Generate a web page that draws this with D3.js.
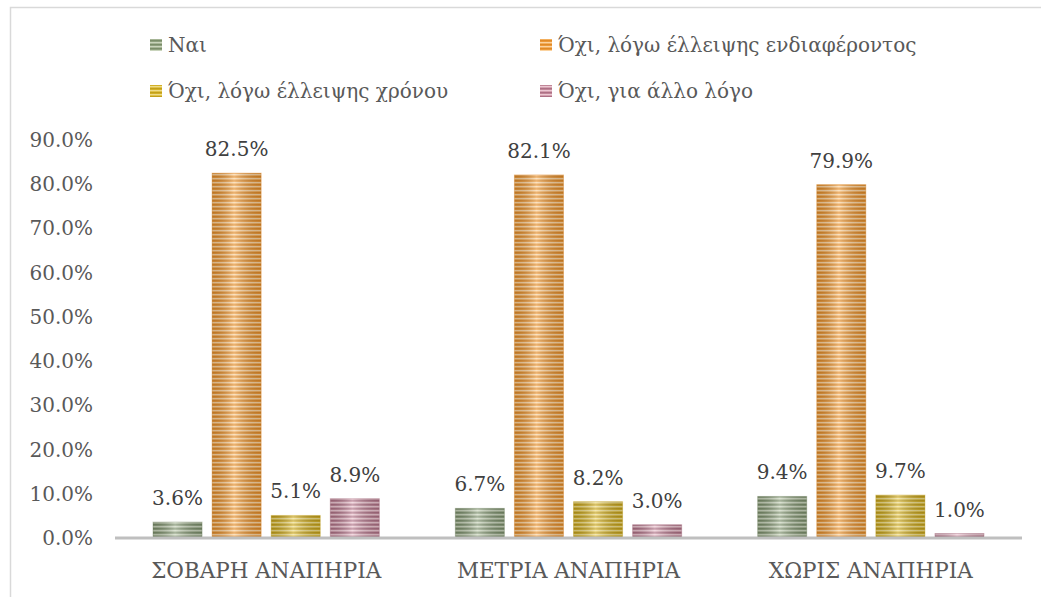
<!DOCTYPE html>
<html>
<head>
<meta charset="utf-8">
<script src="https://cdn.jsdelivr.net/npm/d3@7"></script>
<style>
  body { margin: 0; background: #fff; }
  text { font-family: "DejaVu Serif", "Liberation Serif", serif; }
</style>
</head>
<body>
<div id="chart"></div>
<script>
// data
const categories = ["ΣΟΒΑΡΗ ΑΝΑΠΗΡΙΑ", "ΜΕΤΡΙΑ ΑΝΑΠΗΡΙΑ", "ΧΩΡΙΣ ΑΝΑΠΗΡΙΑ"];
const seriesNames = ["Ναι", "Όχι, λόγω έλλειψης ενδιαφέροντος", "Όχι, λόγω έλλειψης χρόνου", "Όχι, για άλλο λόγο"];
const nai = [3.6, 6.7, 9.4];
const noInterest = [82.5, 82.1, 79.9];
const noTime = [5.1, 8.2, 9.7];
const otherReason = [8.9, 3.0, 1.0];
const yTicks = [0, 10, 20, 30, 40, 50, 60, 70, 80, 90];

const seriesValues = [nai, noInterest, noTime, otherReason];
const colors = [
  { base: "#97a886", dark: "#7a8d6a", light: "#c9d4bc" },
  { base: "#f0a040", dark: "#e08a28", light: "#fbd3a0" },
  { base: "#d9b72c", dark: "#c29f1a", light: "#eedc8a" },
  { base: "#c98fa0", dark: "#ad7085", light: "#ecc7d2" }
];

const W = 1041, H = 597;
const svg = d3.select("#chart").append("svg")
  .attr("width", W).attr("height", H);

// frame
svg.append("rect")
  .attr("x", 10.5).attr("y", 7.5)
  .attr("width", W + 20).attr("height", H + 20)
  .attr("fill", "none").attr("stroke", "#d9d9d9").attr("stroke-width", 1.5);

const defs = svg.append("defs");
colors.forEach((c, i) => {
  const p = defs.append("pattern")
    .attr("id", "stripe" + i)
    .attr("patternUnits", "userSpaceOnUse")
    .attr("width", 8).attr("height", 4);
  p.append("rect").attr("width", 8).attr("height", 4).attr("fill", c.base);
  p.append("rect").attr("y", 0).attr("width", 8).attr("height", 1.3).attr("fill", c.dark);
  p.append("rect").attr("y", 2).attr("width", 8).attr("height", 1.3).attr("fill", c.light);
});
const shade = defs.append("linearGradient").attr("id", "shade")
  .attr("x1", "0%").attr("x2", "100%").attr("y1", "0%").attr("y2", "0%");
shade.append("stop").attr("offset", "0%").attr("stop-color", "#000").attr("stop-opacity", 0.15);
shade.append("stop").attr("offset", "45%").attr("stop-color", "#fff").attr("stop-opacity", 0.35);
shade.append("stop").attr("offset", "100%").attr("stop-color", "#000").attr("stop-opacity", 0.15);

// scales
const x0 = d3.scaleBand().domain(categories).range([115, 1022]).paddingInner(0).paddingOuter(0);
const x1 = d3.scaleBand().domain(d3.range(4)).range([38, x0.bandwidth() - 38]).paddingInner(0.17);
const y = d3.scaleLinear().domain([0, 90]).range([538, 140]);

// y tick labels
svg.append("g").selectAll("text")
  .data(yTicks).enter().append("text")
  .attr("x", 93).attr("y", d => y(d) + 7)
  .attr("text-anchor", "end")
  .attr("font-size", 20).attr("fill", "#595959")
  .text(d => d.toFixed(1) + "%");

// bars
const groups = svg.selectAll(".grp")
  .data(categories).enter().append("g")
  .attr("class", "grp")
  .attr("transform", d => `translate(${x0(d)},0)`);

groups.each(function(cat, ci) {
  const g = d3.select(this);
  seriesValues.forEach((vals, si) => {
    const v = vals[ci];
    g.append("rect")
      .attr("x", x1(si)).attr("y", y(v))
      .attr("width", x1.bandwidth()).attr("height", y(0) - y(v))
      .attr("fill", `url(#stripe${si})`)
      .attr("stroke", colors[si].dark).attr("stroke-opacity", 0.4);
    g.append("rect")
      .attr("x", x1(si)).attr("y", y(v))
      .attr("width", x1.bandwidth()).attr("height", y(0) - y(v))
      .attr("fill", "url(#shade)");
    g.append("text")
      .attr("x", x1(si) + x1.bandwidth() / 2)
      .attr("y", y(v) - 17)
      .attr("text-anchor", "middle")
      .attr("font-size", 20).attr("fill", "#404040")
      .text(v.toFixed(1) + "%");
  });
});

// x axis line
svg.append("line")
  .attr("x1", 115).attr("x2", 1022)
  .attr("y1", y(0)).attr("y2", y(0))
  .attr("stroke", "#bfbfbf").attr("stroke-width", 3);

// category labels
svg.append("g").selectAll("text")
  .data(categories).enter().append("text")
  .attr("x", d => x0(d) + x0.bandwidth() / 2)
  .attr("y", 578)
  .attr("text-anchor", "middle")
  .attr("font-size", 21.5).attr("fill", "#595959")
  .text(d => d);

// legend
const legendPos = [[150, 46], [540, 46], [150, 92], [540, 92]];
seriesNames.forEach((name, i) => {
  const [lx, ly] = legendPos[i];
  svg.append("rect")
    .attr("x", lx).attr("y", ly - 7)
    .attr("width", 12).attr("height", 12)
    .attr("fill", `url(#stripe${i})`);
  svg.append("text")
    .attr("x", lx + 18).attr("y", ly + 6)
    .attr("font-size", 20).attr("fill", "#595959")
    .text(name);
});
</script>
</body>
</html>
